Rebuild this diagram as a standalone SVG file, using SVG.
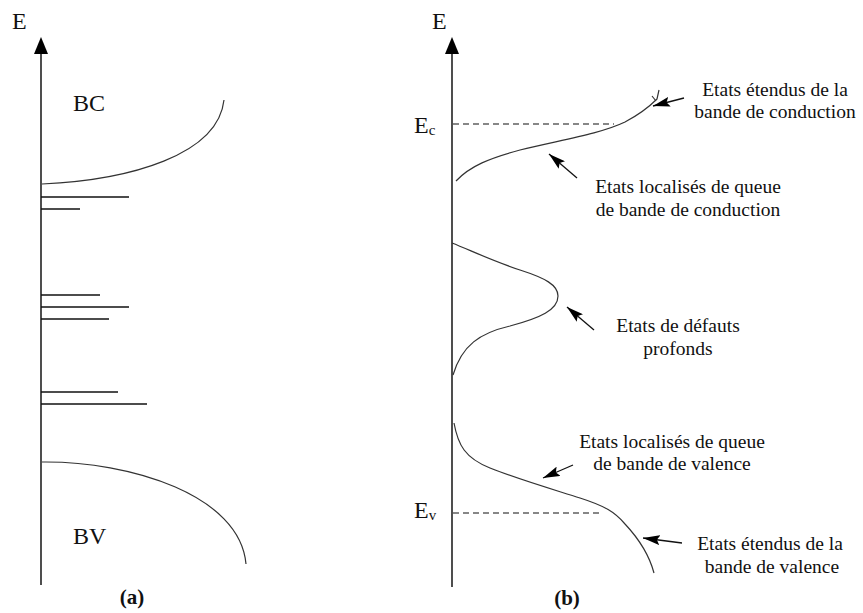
<svg xmlns="http://www.w3.org/2000/svg" width="863" height="613" viewBox="0 0 863 613">
<style>
text{font-family:'Liberation Serif','DejaVu Serif',serif;fill:#111}
.lbl{font-size:19.5px;text-anchor:middle}
.big{font-size:24px}
.cap{font-size:21px;font-weight:bold;text-anchor:middle}
.axis{stroke:#222;stroke-width:1.6;fill:none}
.lvl{stroke:#111;stroke-width:1.6}
.crv{stroke:#333;stroke-width:1.2;fill:none}
.dash{stroke:#111;stroke-width:1.2;stroke-dasharray:6,4;fill:none}
.arr{stroke:#111;stroke-width:1.3;fill:none;marker-end:url(#ah)}
</style>
<defs>
<marker id="ah" viewBox="0 0 17 10" refX="17" refY="5" markerWidth="17" markerHeight="10" markerUnits="userSpaceOnUse" orient="auto">
<path d="M0,0 L17,5 L0,10 L3,5 z" fill="#000"/>
</marker>
</defs>
<rect width="863" height="613" fill="#fff"/>

<g id="panel-a" font-family="Liberation Serif, serif">
<g id="axis-a">
<line class="axis" x1="41" y1="585" x2="41" y2="50"/>
<polygon points="41,37 34,54 48,54" fill="#000"/>
<text class="big" x="12" y="29" font-family="Liberation Serif, serif">E</text>
</g>
<g id="bc">
<path class="crv" d="M42,184 C130,180 218,155 224,100"/>
<text class="big" x="73" y="111" font-family="Liberation Serif, serif">BC</text>
</g>
<g id="levels">
<line class="lvl" x1="41" y1="197" x2="129" y2="197"/>
<line class="lvl" x1="41" y1="209" x2="80" y2="209"/>
<line class="lvl" x1="41" y1="295" x2="100" y2="295"/>
<line class="lvl" x1="41" y1="307" x2="129" y2="307"/>
<line class="lvl" x1="41" y1="319" x2="109" y2="319"/>
<line class="lvl" x1="41" y1="392" x2="118" y2="392"/>
<line class="lvl" x1="41" y1="404" x2="147" y2="404"/>
</g>
<g id="bv">
<path class="crv" d="M42,462 C130,461 240,495 246,564"/>
<text class="big" x="73" y="544" font-family="Liberation Serif, serif">BV</text>
</g>
<text class="cap" x="132" y="604" font-family="Liberation Serif, serif">(a)</text>
</g>

<g id="panel-b" font-family="Liberation Serif, serif">
<g id="axis-b">
<line class="axis" x1="452" y1="587" x2="452" y2="50"/>
<polygon points="452,37 445,54 459,54" fill="#000"/>
<text class="big" x="432" y="29" font-family="Liberation Serif, serif">E</text>
</g>
<g id="ec">
<text class="big" x="414" y="133" font-family="Liberation Serif, serif">E<tspan font-size="15" dy="2">c</tspan></text>
<line class="dash" x1="453" y1="124" x2="614" y2="124"/>
</g>
<g id="cb-tail">
<path class="crv" d="M456,181 C470,166 490,158 520,150 C560,140 600,134 625,122 C642,113 650,106 657,99 L659,90"/>
<path class="crv" d="M656,101 L652,96"/>
</g>
<g id="deep-defects">
<path class="crv" d="M452,243 C470,250 490,260 520,270 C545,278 558,285 558,296 C558,310 540,318 510,326 C480,333 462,345 453,375"/>
</g>
<g id="vb-tail">
<path class="crv" d="M454,423 C458,445 465,458 490,468 C520,480 555,490 580,498 C605,506 615,512 625,524 C640,540 650,558 654,573"/>
</g>
<g id="ev">
<text class="big" x="414" y="518" font-family="Liberation Serif, serif">E<tspan font-size="15" dy="2">v</tspan></text>
<line class="dash" x1="453" y1="513" x2="603" y2="513"/>
</g>
<text class="cap" x="567" y="605" font-family="Liberation Serif, serif">(b)</text>

<g id="lbl-ext-cb" font-family="Liberation Serif, serif">
<text class="lbl" x="775" y="96" font-family="Liberation Serif, serif">Etats étendus de la</text>
<text class="lbl" x="775" y="118" font-family="Liberation Serif, serif">bande de conduction</text>
</g>
<g id="lbl-loc-cb">
<text class="lbl" x="688" y="193" font-family="Liberation Serif, serif">Etats localisés de queue</text>
<text class="lbl" x="688" y="216" font-family="Liberation Serif, serif">de bande de conduction</text>
</g>
<g id="lbl-defects">
<text class="lbl" x="678" y="332" font-family="Liberation Serif, serif">Etats de défauts</text>
<text class="lbl" x="678" y="355" font-family="Liberation Serif, serif">profonds</text>
</g>
<g id="lbl-loc-vb">
<text class="lbl" x="672" y="448" font-family="Liberation Serif, serif">Etats localisés de queue</text>
<text class="lbl" x="672" y="470" font-family="Liberation Serif, serif">de bande de valence</text>
</g>
<g id="lbl-ext-vb">
<text class="lbl" x="770" y="550" font-family="Liberation Serif, serif">Etats étendus de la</text>
<text class="lbl" x="772" y="573" font-family="Liberation Serif, serif">bande de valence</text>
</g>
</g>

<g id="connectors">
<line class="arr" x1="684" y1="98" x2="653" y2="106"/>
<line class="arr" x1="577" y1="178" x2="549" y2="154"/>
<line class="arr" x1="594" y1="330" x2="567" y2="307"/>
<line class="arr" x1="573" y1="465" x2="543" y2="478"/>
<line class="arr" x1="682" y1="543" x2="643" y2="538"/>
</g>
</svg>
